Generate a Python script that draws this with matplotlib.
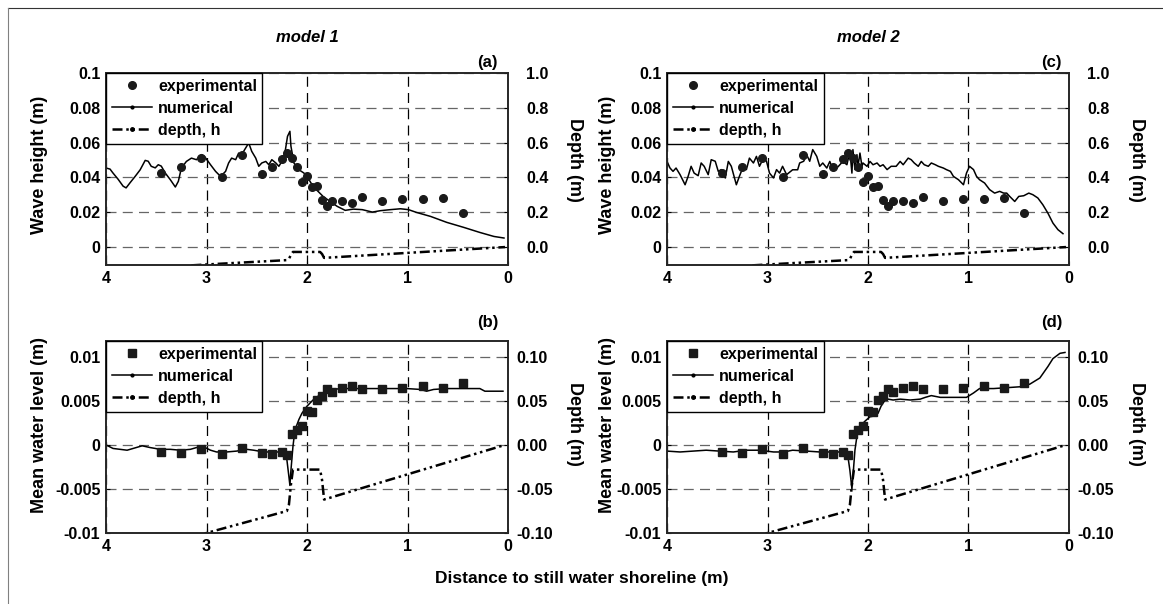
import matplotlib
matplotlib.use("Agg")
import matplotlib.pyplot as plt
from matplotlib.lines import Line2D
import numpy as np

plt.rcParams['font.family'] = ['Liberation Sans', 'DejaVu Sans']
plt.rcParams['font.weight'] = 'bold'

# measured points (same in both models)
x_exp = [3.45, 3.25, 3.05, 2.85, 2.65, 2.45, 2.35, 2.25, 2.2, 2.15, 2.1, 2.05, 2.0,
         1.95, 1.9, 1.85, 1.8, 1.75, 1.65, 1.55, 1.45, 1.25, 1.05, 0.85, 0.65, 0.45]
wave_exp = [0.0425, 0.0458, 0.0511, 0.0400, 0.0529, 0.0420, 0.0458, 0.0504, 0.0540,
            0.0510, 0.0458, 0.0375, 0.0406, 0.0345, 0.0349, 0.0272, 0.0238, 0.0266,
            0.0262, 0.0253, 0.0285, 0.0262, 0.0276, 0.0276, 0.0284, 0.0197]
mwl_exp = [-0.00076, -0.00088, -0.00046, -0.00107, -0.00034, -0.00088, -0.00103,
           -0.00076, -0.00114, 0.00126, 0.00164, 0.0021, 0.0038, 0.0037, 0.00514,
           0.0055, 0.0063, 0.0060, 0.0065, 0.0067, 0.0064, 0.0063, 0.0065, 0.0067,
           0.0065, 0.0070]

# bottom profile
x_depth = [3.15, 3.0, 2.2, 2.18, 2.16, 2.14, 1.87, 1.85, 1.83, 0.03]
depth = [-0.105, -0.1, -0.075, -0.068, -0.045, -0.028, -0.028, -0.04, -0.062, 0.0]

# model 1 wave height
x_wave1 = [4.0, 3.96, 3.93, 3.88, 3.83, 3.80, 3.76, 3.71, 3.66, 3.61, 3.58, 3.55, 3.51,
           3.48, 3.45, 3.41, 3.36, 3.31, 3.28, 3.25, 3.20, 3.15, 3.10, 3.05, 3.02,
           2.96, 2.91, 2.86, 2.81, 2.78, 2.75, 2.71, 2.68, 2.65, 2.62, 2.58, 2.55,
           2.51, 2.48, 2.45, 2.41, 2.38, 2.35, 2.31, 2.28, 2.25, 2.22, 2.194, 2.17,
           2.16, 2.13, 2.08, 2.03, 1.98, 1.94, 1.89, 1.84, 1.77, 1.70, 1.62, 1.54,
           1.45, 1.35, 1.27, 1.17, 1.07, 0.99, 0.91, 0.77, 0.61, 0.44, 0.28, 0.14, 0.04]
wave_num1 = [0.0454, 0.0448, 0.0425, 0.039, 0.035, 0.034, 0.037, 0.0406, 0.0444, 0.0498,
             0.0493, 0.0464, 0.0455, 0.0473, 0.0465, 0.0425, 0.0387, 0.0345, 0.0378,
             0.0454, 0.0492, 0.0511, 0.0502, 0.0531, 0.0521, 0.0473, 0.0435, 0.0406,
             0.0435, 0.0483, 0.0511, 0.0502, 0.054, 0.053, 0.056, 0.0598, 0.055,
             0.0511, 0.0464, 0.0483, 0.0492, 0.0473, 0.0502, 0.0483, 0.0464, 0.0492,
             0.054, 0.0636, 0.0665, 0.058, 0.0483, 0.0444, 0.0425, 0.0387, 0.0349,
             0.032, 0.0291, 0.0262, 0.0234, 0.0211, 0.0218, 0.0215, 0.0201, 0.0209,
             0.0215, 0.022, 0.0215, 0.0199, 0.0176, 0.0142, 0.0113, 0.0084, 0.0061, 0.0052]

# model 2 wave height
x_wave2 = [4.0, 3.97, 3.94, 3.91, 3.87, 3.82, 3.79, 3.76, 3.73, 3.69, 3.66, 3.63, 3.59,
           3.56, 3.52, 3.49, 3.46, 3.42, 3.39, 3.36, 3.31, 3.28, 3.24, 3.21, 3.18,
           3.14, 3.11, 3.08, 3.04, 3.01, 2.98, 2.94, 2.91, 2.88, 2.85, 2.81, 2.75,
           2.70, 2.68, 2.64, 2.61, 2.58, 2.55, 2.51, 2.48, 2.45, 2.41, 2.38, 2.35,
           2.31, 2.28, 2.25, 2.21, 2.18, 2.16, 2.15, 2.13, 2.11, 2.10, 2.08, 2.06,
           2.05, 2.01, 1.98, 1.95, 1.91, 1.88, 1.85, 1.81, 1.77, 1.72, 1.68, 1.65,
           1.60, 1.57, 1.54, 1.50, 1.47, 1.44, 1.40, 1.37, 1.33, 1.30, 1.25, 1.22,
           1.18, 1.15, 1.10, 1.05, 1.02, 0.99, 0.95, 0.92, 0.89, 0.84, 0.79, 0.74,
           0.69, 0.65, 0.62, 0.59, 0.54, 0.50, 0.45, 0.40, 0.36, 0.31, 0.26, 0.21,
           0.16, 0.11, 0.06]
wave_num2 = [0.0492, 0.0454, 0.0435, 0.0454, 0.0416, 0.0358, 0.0406, 0.0464, 0.0425,
             0.041, 0.0483, 0.0464, 0.0416, 0.0502, 0.0493, 0.0435, 0.0445, 0.0397,
             0.0492, 0.0464, 0.0358, 0.0406, 0.0464, 0.0445, 0.0511, 0.0483, 0.0521,
             0.0464, 0.0511, 0.0493, 0.0425, 0.0397, 0.0445, 0.0425, 0.0464, 0.0416,
             0.0444, 0.0444, 0.0483, 0.0493, 0.053, 0.0493, 0.056, 0.0521, 0.0464,
             0.0483, 0.0454, 0.0492, 0.0445, 0.0454, 0.0473, 0.0492, 0.0473, 0.055,
             0.0425, 0.056, 0.0445, 0.0531, 0.0464, 0.054, 0.0464, 0.0483, 0.0464,
             0.0492, 0.0473, 0.0483, 0.0464, 0.0473, 0.0445, 0.0464, 0.0464, 0.0492,
             0.0473, 0.0511, 0.0502, 0.0483, 0.0464, 0.0492, 0.0473, 0.0464, 0.0483,
             0.0473, 0.0464, 0.0454, 0.0445, 0.0435, 0.0406, 0.0387, 0.0358, 0.0425,
             0.0464, 0.0445, 0.0406, 0.0387, 0.0368, 0.033, 0.031, 0.032, 0.0310,
             0.031, 0.0291, 0.0262, 0.0291, 0.0295, 0.031, 0.0301, 0.0282, 0.0243,
             0.0195, 0.0138, 0.01, 0.0077]

# model 1 mean water level
x_mwl1 = [4.0, 3.93, 3.86, 3.79, 3.73, 3.64, 3.56, 3.46, 3.36, 3.26, 3.16, 3.10, 3.03,
          2.96, 2.90, 2.80, 2.70, 2.60, 2.53, 2.43, 2.33, 2.27, 2.22, 2.20, 2.18,
          2.17, 2.16, 2.14, 2.12, 2.08, 2.05, 2.0, 1.94, 1.87, 1.79, 1.67, 1.54,
          1.40, 1.27, 1.14, 1.01, 0.87, 0.81, 0.74, 0.61, 0.44, 0.28, 0.23, 0.14, 0.05]
mwl_num1 = [0.0, -0.0004, -0.0005, -0.0006, -0.0004, -0.0001, -0.0003, -0.0005,
            -0.0005, -0.0006, -0.0005, -0.0003, -0.0002, -0.0006, -0.0008, -0.0008,
            -0.0007, -0.0005, -0.0006, -0.0008, -0.0008, -0.0008, -0.001, -0.0017,
            -0.0036, -0.0046, -0.0029, -0.0002, 0.0017, 0.0029, 0.0036, 0.0044,
            0.0051, 0.0057, 0.0062, 0.0064, 0.0064, 0.0064, 0.0064, 0.0064, 0.0064,
            0.0063, 0.0061, 0.0063, 0.0064, 0.0064, 0.0064, 0.0061, 0.0061, 0.0061]

# model 2 mean water level
x_mwl2 = [4.0, 3.87, 3.74, 3.61, 3.48, 3.34, 3.21, 3.08, 2.94, 2.84, 2.75, 2.61, 2.48,
          2.35, 2.25, 2.20, 2.18, 2.16, 2.15, 2.13, 2.11, 2.08, 2.03, 1.98, 1.93,
          1.90, 1.87, 1.83, 1.80, 1.75, 1.68, 1.58, 1.48, 1.43, 1.37, 1.28, 1.15,
          1.02, 0.95, 0.89, 0.75, 0.62, 0.49, 0.39, 0.29, 0.21, 0.16, 0.09, 0.04]
mwl_num2 = [-0.0007, -0.0008, -0.0007, -0.0006, -0.0007, -0.0008, -0.0006, -0.0006,
            -0.0008, -0.0008, -0.0006, -0.0007, -0.0008, -0.0008, -0.0008, -0.0013,
            -0.0029, -0.005, -0.0036, -0.0006, 0.001, 0.0021, 0.0027, 0.0032, 0.0033,
            0.0036, 0.0044, 0.0051, 0.0052, 0.0051, 0.0052, 0.0051, 0.0052, 0.0054,
            0.0056, 0.0054, 0.0054, 0.0054, 0.0059, 0.0064, 0.0064, 0.0065, 0.0066,
            0.0069, 0.0076, 0.0089, 0.0098, 0.0104, 0.0105]

W, H = 1163, 604
fig = plt.figure(figsize=(11.63, 6.04), dpi=100)


def px(x0, y0, x1, y1):
    return [x0 / W, 1 - y1 / H, (x1 - x0) / W, (y1 - y0) / H]


def style(ax, pad=3):
    for s in ax.spines.values():
        s.set_linewidth(1.2)
        s.set_color('0.15')
    ax.tick_params(direction='in', length=3, width=0.8, labelsize=11.5, pad=pad)


depth_ls = (0, (4, 1.5, 1, 1.5, 1, 1.5))


def panel(rect, xn, yn, ye, exp_marker, yl, yticks, ylabels, rl, rticks, rlabels, rpad):
    ax = fig.add_axes(px(*rect))
    ax.set_axisbelow(True)
    ax.plot(xn, yn, '-', color='black', lw=1.1, zorder=3)
    ax.plot(x_exp, ye, exp_marker, color='0.1', ms=5.5, ls='none', zorder=4)
    ax.set_xlim(4, 0)
    ax.set_ylim(*yl)
    ax.set_xticks([4, 3, 2, 1, 0])
    ax.set_xticklabels(['4', '3', '2', '1', '0'])
    ax.set_yticks(yticks)
    ax.set_yticklabels(ylabels)
    ax.xaxis.grid(True, color='black', lw=0.9, ls=(0, (8, 5)))
    ax.yaxis.grid(True, color='0.4', lw=0.9, ls=(0, (8, 5)))
    style(ax, pad=4)
    ax2 = ax.twinx()
    ax2.plot(x_depth, depth, color='black', lw=1.8, ls=depth_ls)
    ax2.set_ylim(*rl)
    ax2.set_yticks(rticks)
    ax2.set_yticklabels(rlabels)
    style(ax2, pad=rpad)
    handles = [
        Line2D([], [], ls='none', marker=exp_marker, color='0.1', ms=5.5),
        Line2D([], [], ls='-', lw=1.1, color='black', marker='.', ms=4),
        Line2D([], [], lw=1.8, color='black', ls=depth_ls, marker='.', ms=5),
    ]
    leg = ax2.legend(handles, ['experimental', 'numerical', 'depth, h'], loc='upper left',
                     borderaxespad=0, fancybox=False, framealpha=1, edgecolor='black',
                     fontsize=11.5, handlelength=2.5, handletextpad=0.4,
                     labelspacing=0.45, borderpad=0.35)
    leg.get_frame().set_linewidth(1.0)
    return ax


top_yl = (-0.0103, 0.1)
top_rl = (-0.103, 1.0)
bot_yl = (-0.01, 0.0118)
bot_rl = (-0.1, 0.118)
wave_ticks = [0, 0.02, 0.04, 0.06, 0.08, 0.1]
wave_lab = ['0', '0.02', '0.04', '0.06', '0.08', '0.1']
dep_ticks_t = [0, 0.2, 0.4, 0.6, 0.8, 1.0]
dep_lab_t = ['0.0', '0.2', '0.4', '0.6', '0.8', '1.0']
mwl_ticks = [-0.01, -0.005, 0, 0.005, 0.01]
mwl_lab = ['-0.01', '-0.005', '0', '0.005', '0.01']
dep_ticks_b = [-0.1, -0.05, 0, 0.05, 0.1]
dep_lab_b = ['-0.10', '-0.05', '0.00', '0.05', '0.10']

panel((106, 73, 508, 265), x_wave1, wave_num1, wave_exp, 'o', top_yl, wave_ticks, wave_lab,
      top_rl, dep_ticks_t, dep_lab_t, 13)
panel((667, 73, 1069, 265), x_wave2, wave_num2, wave_exp, 'o', top_yl, wave_ticks, wave_lab,
      top_rl, dep_ticks_t, dep_lab_t, 13)
panel((106, 341, 508, 533), x_mwl1, mwl_num1, mwl_exp, 's', bot_yl, mwl_ticks, mwl_lab,
      bot_rl, dep_ticks_b, dep_lab_b, 6)
panel((667, 341, 1069, 533), x_mwl2, mwl_num2, mwl_exp, 's', bot_yl, mwl_ticks, mwl_lab,
      bot_rl, dep_ticks_b, dep_lab_b, 6)


def ftext(x, y, s, **kw):
    fig.text(x / W, 1 - y / H, s, ha=kw.pop('ha', 'center'), va=kw.pop('va', 'center'), **kw)


ftext(307, 37, 'model 1', fontsize=12, style='italic')
ftext(868, 37, 'model 2', fontsize=12, style='italic')
ftext(498, 62, '(a)', fontsize=12, ha='right')
ftext(1062, 62, '(c)', fontsize=12, ha='right')
ftext(498, 323, '(b)', fontsize=12, ha='right')
ftext(1063, 323, '(d)', fontsize=12, ha='right')
ftext(40, 165, 'Wave height (m)', fontsize=13, rotation=90)
ftext(608, 165, 'Wave height (m)', fontsize=13, rotation=90)
ftext(40, 425, 'Mean water level (m)', fontsize=13, rotation=90)
ftext(608, 425, 'Mean water level (m)', fontsize=13, rotation=90)
ftext(574, 160, 'Depth (m)', fontsize=13, rotation=270)
ftext(1136, 160, 'Depth (m)', fontsize=13, rotation=270)
ftext(574, 424, 'Depth (m)', fontsize=13, rotation=270)
ftext(1136, 424, 'Depth (m)', fontsize=13, rotation=270)
ftext(582, 578, 'Distance to still water shoreline (m)', fontsize=12.5)

# frame lines around the figure
fig.add_artist(Line2D([8 / W, 1], [1 - 8 / H, 1 - 8 / H], color='0.2', lw=0.8))
fig.add_artist(Line2D([8 / W, 8 / W], [0, 1 - 8 / H], color='0.5', lw=0.8))

fig.savefig('out.png', dpi=100)
